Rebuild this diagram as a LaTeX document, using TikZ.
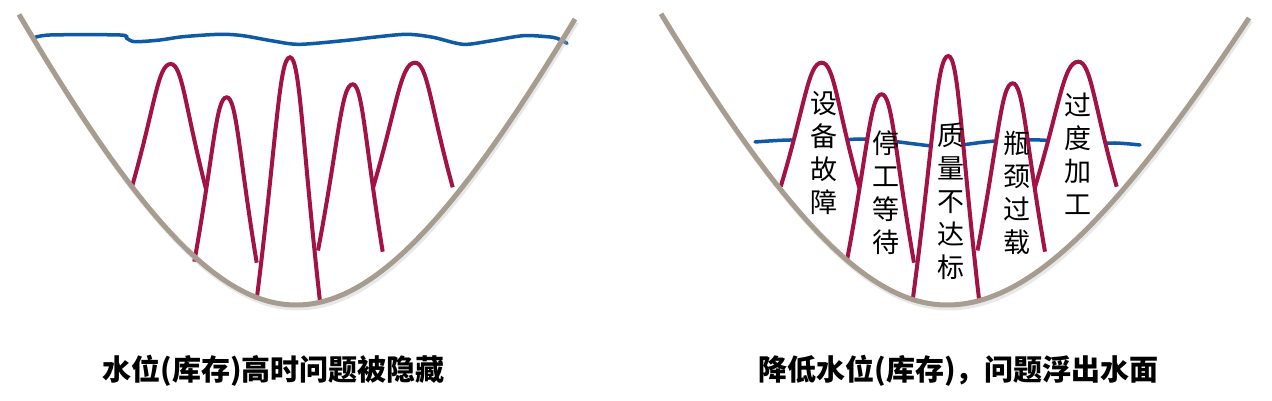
\documentclass[tikz,border=0pt]{standalone}
\usepackage{fontspec}
\newfontfamily\cjk{Noto Sans CJK SC}
\definecolor{bowlc}{RGB}{166,156,144}
\definecolor{archc}{RGB}{163,18,68}
\definecolor{waterc}{RGB}{14,90,166}
% arch: left foot (#1,#2), peak (#3,#4), right foot (#5,#6)
\newcommand{\rockarch}[6]{%
  \path[arch] (#1,#2) .. controls ({#1+0.6*(#3-#1)},{#2-0.66*(#2-#4)}) and ({#3-0.33*(#3-#1)},#4) .. (#3,#4)
    .. controls ({#3+0.33*(#5-#3)},#4) and ({#5-0.6*(#5-#3)},{#6-0.66*(#6-#4)}) .. (#5,#6);}
% bowl: domain #1:#2, centre x #3, bottom y #4, left factor #5, right factor #6
\newcommand{\bowlcurve}[6]{%
  \draw[bowlshadow] plot[domain=#1:#2, samples=140, variable=\t] ({#3+\t+1.5}, {#4+3-(\t<0 ? #5 : #6)*(sqrt(1+(\t/220)^2)-1)});
  \draw[bowl] plot[domain=#1:#2, samples=140, variable=\t] ({#3+\t}, {#4-(\t<0 ? #5 : #6)*(sqrt(1+(\t/220)^2)-1)});}
\begin{document}
\begin{tikzpicture}[x=1pt,y=-1pt,
  bowl/.style={draw=bowlc, line width=5pt},
  bowlshadow/.style={draw=black!25, line width=5pt, opacity=0.35},
  arch/.style={draw=archc, fill=white, line width=4pt},
  water/.style={draw=waterc, line width=3.5pt, line cap=round},
  lbl/.style={font=\cjk\fontsize{27}{33}\selectfont, align=center, inner sep=0pt},
  captext/.style={font=\cjk\bfseries\fontsize{29}{31}\selectfont, inner sep=0pt}]
\useasboundingbox[fill=white] (0,0) rectangle (1272,401);
% ---- left picture ----
\draw[water] plot[smooth, tension=0.5] coordinates {(32.7,38.3) (50,35) (120,35) (126.7,38.3) (135,41.7) (160,40) (183,36.7) (220,34.3) (243,35.7) (273,41) (300,44.3) (350,40) (373,37.3) (406.7,34.3) (433,37.3) (463,44.3) (490,41) (523,35.7) (547,36.7) (557,38.3) (567,43.3)};
\rockarch{194.3}{261.7}{226.7}{97.3}{256.7}{262.7}
\rockarch{131.7}{187.7}{170.7}{64}{206}{189}
\rockarch{256.7}{299.3}{290}{57.3}{320}{301.7}
\rockarch{370}{198}{415}{62.7}{452.7}{187.3}
\rockarch{318}{250.5}{352.7}{84.3}{382.7}{251.7}
\bowlcurve{-277}{279}{296}{305}{478}{465}
% ---- right picture ----
\draw[water] plot[smooth, tension=0.6] coordinates {(755,142) (790,140) (830,141) (860,139) (890,141) (915,144) (935,146) (960,145) (985,142) (1010,140) (1040,140) (1065,142) (1090,144) (1115,143) (1140,145)};
\rockarch{846.7}{261.7}{881.7}{94.3}{914}{262.7}
\rockarch{780.7}{186.7}{821.7}{62.7}{859.3}{187.7}
\rockarch{912.7}{300}{948.3}{56}{979.3}{301.7}
\rockarch{1032}{197}{1078.3}{61.7}{1116.7}{186.7}
\rockarch{977.5}{250.5}{1012.7}{83.3}{1045}{251.7}
\bowlcurve{-286}{302}{947}{305}{455}{411}
\node[lbl] (t1) at (824,153.3) {设\\备\\故\\障};
\node[lbl] (t2) at (885.7,192.5) {停\\工\\等\\待};
\node[lbl] (t3) at (950.7,200.8) {质\\量\\不\\达\\标};
\node[lbl] (t4) at (1016.7,192.5) {瓶\\颈\\过\\载};
\node[lbl] (t5) at (1078.3,154) {过\\度\\加\\工};
% ---- captions ----
\node[captext] (c1) at (273.5,371) {水位(库存)高时问题被隐藏};
\node[captext] (c2) at (958.5,371) {降低水位(库存)，问题浮出水面};
\end{tikzpicture}
\end{document}
